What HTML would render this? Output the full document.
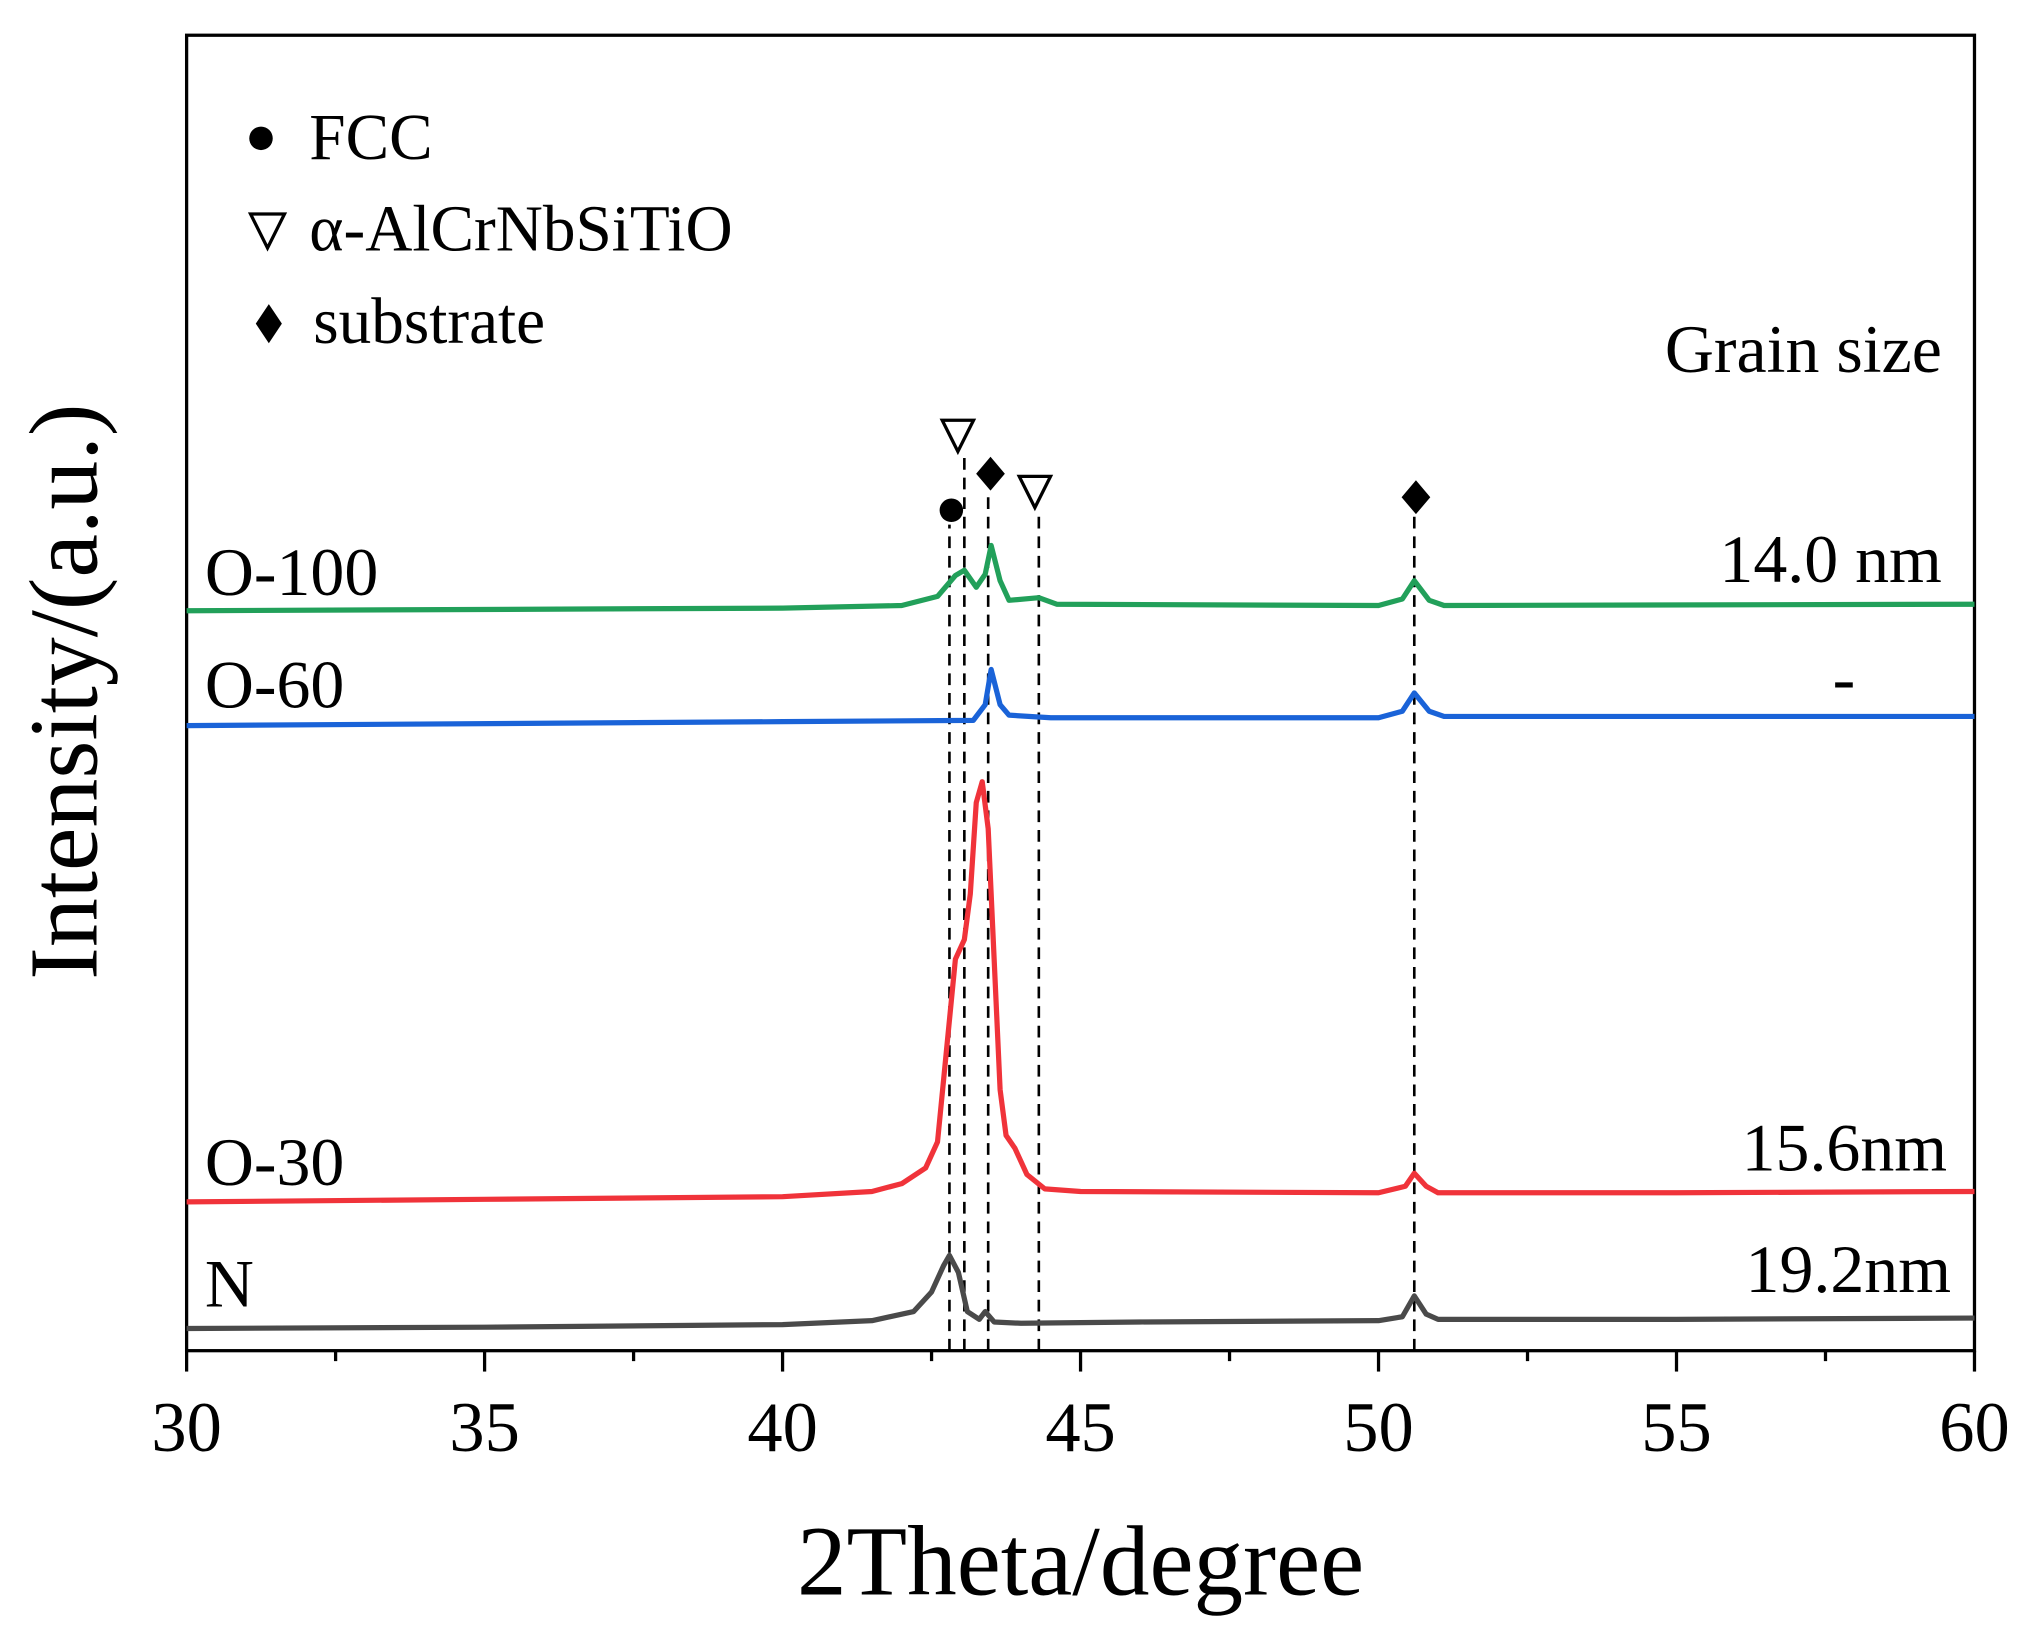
<!DOCTYPE html>
<html><head><meta charset="utf-8"><style>
html,body{margin:0;padding:0;background:#fff;}
svg{display:block;}
text{font-family:"Liberation Serif",serif;fill:#000;}
</style></head><body>
<svg id="chart" width="2043" height="1637" viewBox="0 0 1565.5 1254.4" preserveAspectRatio="none" xmlns="http://www.w3.org/2000/svg">
<rect x="143" y="27" width="1370" height="1008" fill="none" stroke="#000" stroke-width="2.5"/>
<g id="ticks"></g>
<g id="vlines"></g>
<g id="series"></g>
<g>
<circle cx="200" cy="106" r="9"/>
<text x="237" y="122" font-size="50">FCC</text>
<path d="M192,164 L218,164 L205,190 Z" fill="none" stroke="#000" stroke-width="2.5"/>
<text x="237" y="192" font-size="50">α-AlCrNbSiTiO</text>
<path d="M206,233 L216,248 L206,263 L196,248 Z"/>
<text x="240" y="263" font-size="50">substrate</text>
</g>
<text x="1488" y="285" font-size="52" text-anchor="end">Grain size</text>
<text x="1488" y="446" font-size="52" text-anchor="end">14.0 nm</text>
<text x="1413" y="537" font-size="52" text-anchor="middle">-</text>
<text x="1492" y="897" font-size="52" text-anchor="end">15.6nm</text>
<text x="1495" y="990" font-size="52" text-anchor="end">19.2nm</text>
<text x="157" y="456" font-size="52">O-100</text>
<text x="157" y="542" font-size="52">O-60</text>
<text x="157" y="908" font-size="52">O-30</text>
<text x="157" y="1001" font-size="52">N</text>
<g>
<circle cx="729" cy="391" r="9"/>
<path d="M722,322 L746,322 L734,346 Z" fill="none" stroke="#000" stroke-width="2.5"/>
<path d="M759,350 L770,363 L759,376 L748,363 Z"/>
<path d="M781,365 L805,365 L793,389 Z" fill="none" stroke="#000" stroke-width="2.5"/>
<path d="M1085,368 L1096,381 L1085,394 L1074,381 Z"/>
</g>
<text x="828" y="1222" font-size="76" text-anchor="middle">2Theta/degree</text>
<text transform="translate(74,530) rotate(-90)" font-size="75" text-anchor="middle">Intensity/(a.u.)</text>
</svg>
<script>
const xTicks = [30, 35, 40, 45, 50, 55, 60];
const refLines = [42.8, 43.05, 43.45, 44.3, 50.6];
const refTops = [633, 685, 657, 642, 639];
const nX = [30,35,40,41.5,42.2,42.5,42.7,42.8,42.95,43.1,43.3,43.4,43.55,44,46,50,50.4,50.6,50.8,51,55,60];
const nY = [17,18,20,23,30,45,65,73,60,30,24,30,22,21,22,23,26,42,28,24,24,25];
const o30X = [30,35,40,41.5,42,42.4,42.6,42.75,42.9,43.05,43.15,43.25,43.35,43.45,43.55,43.65,43.75,43.9,44.1,44.4,45,50,50.45,50.6,50.8,51,55,60];
const o30Y = [114,116,118,122,128,140,160,230,300,315,350,420,436,400,300,200,165,155,135,124,122,121,126,136,126,121,121,122];
const o60X = [30,40,43.2,43.4,43.5,43.65,43.8,44.5,50,50.4,50.6,50.85,51.1,60];
const o60Y = [479,482,483,495,522,495,487,485,485,490,504,490,486,486];
const o100X = [30,40,42,42.6,42.9,43.05,43.25,43.4,43.5,43.65,43.8,44.3,44.6,50,50.4,50.6,50.85,51.1,60];
const o100Y = [567,569,571,578,594,598,585,595,617,590,575,577,572,571,576,590,575,571,572];

const NS = "http://www.w3.org/2000/svg";
const X0 = 143, X1 = 1513, Y0 = 1035;
function sx(v){ return X0 + (v - 30) / 30 * (X1 - X0); }
function sy(v){ return Y0 - v; }

const tg = document.getElementById('ticks');
for (let i = 0; i < xTicks.length; i++) {
  const t = xTicks[i];
  const l = document.createElementNS(NS, 'line');
  l.setAttribute('x1', sx(t)); l.setAttribute('x2', sx(t));
  l.setAttribute('y1', Y0); l.setAttribute('y2', Y0 + 16);
  l.setAttribute('stroke', '#000'); l.setAttribute('stroke-width', '2.5');
  
  
  tg.appendChild(l);
  const tx = document.createElementNS(NS, 'text');
  tx.setAttribute('x', sx(t)); tx.setAttribute('y', 1112);
  tx.setAttribute('font-size', '54'); tx.setAttribute('text-anchor', 'middle');
  tx.textContent = t;
  
  
  tg.appendChild(tx);
  if (i < xTicks.length - 1) {
    const m = (t + xTicks[i+1]) / 2;
    const ml = document.createElementNS(NS, 'line');
    ml.setAttribute('x1', sx(m)); ml.setAttribute('x2', sx(m));
    ml.setAttribute('y1', Y0); ml.setAttribute('y2', Y0 + 8);
    ml.setAttribute('stroke', '#000'); ml.setAttribute('stroke-width', '2.5');
    
    
    tg.appendChild(ml);
  }
}

const vg = document.getElementById('vlines');
for (let i = 0; i < refLines.length; i++) {
  const l = document.createElementNS(NS, 'line');
  l.setAttribute('x1', sx(refLines[i])); l.setAttribute('x2', sx(refLines[i]));
  l.setAttribute('y1', Y0); l.setAttribute('y2', sy(refTops[i]));
  l.setAttribute('stroke', '#000'); l.setAttribute('stroke-width', '2');
  l.setAttribute('stroke-dasharray', '9,6');
  
  
  vg.appendChild(l);
}

const sg = document.getElementById('series');
function draw(xs, ys, color, name) {
  const p = document.createElementNS(NS, 'polyline');
  p.setAttribute('points', xs.map((x, i) => sx(x) + ',' + sy(ys[i])).join(' '));
  p.setAttribute('fill', 'none'); p.setAttribute('stroke', color);
  p.setAttribute('stroke-width', '4'); p.setAttribute('stroke-linejoin', 'round');
  
  
  sg.appendChild(p);
}
draw(nX, nY, '#4a4a4a', 'series-n');
draw(o30X, o30Y, '#f0333a', 'series-o30');
draw(o60X, o60Y, '#1a63d8', 'series-o60');
draw(o100X, o100Y, '#22a05a', 'series-o100');
</script>
</body></html>
